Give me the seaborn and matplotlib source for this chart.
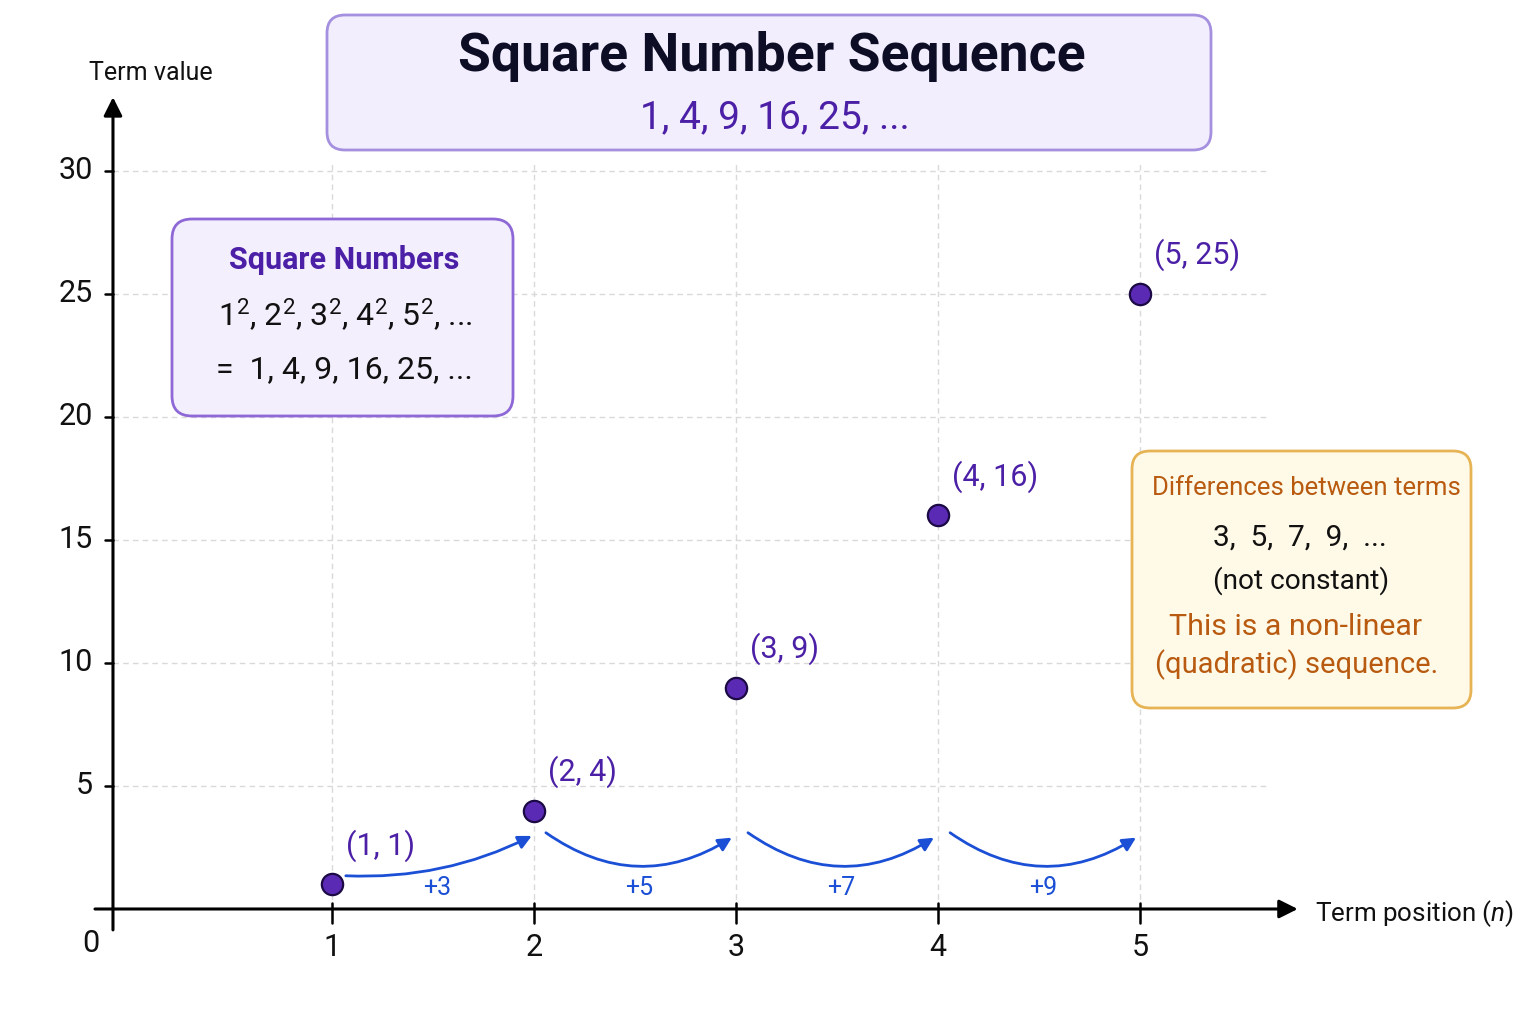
import matplotlib.pyplot as plt
import seaborn as sns
import pandas as pd
from matplotlib.patches import FancyBboxPatch, FancyArrowPatch

# data
positions = [1, 2, 3, 4, 5]
squares = [1, 4, 9, 16, 25]
diff_labels = ["+3", "+5", "+7", "+9"]
point_labels = ["(1, 1)", "(2, 4)", "(3, 9)", "(4, 16)", "(5, 25)"]
y_ticks = [5, 10, 15, 20, 25, 30]

PURPLE = "#4b1fa6"
POINT = "#5a2ab5"
BLUE = "#1a4fd6"
ORANGE = "#b85a10"
GRID = "#d9d9d9"

sns.set_theme(style="white")
plt.rcParams["font.family"] = ["Roboto", "DejaVu Sans"]
plt.rcParams["mathtext.fontset"] = "custom"
plt.rcParams["mathtext.rm"] = "Roboto"
plt.rcParams["mathtext.it"] = "Roboto:italic"

W, H = 1536, 1024
fig = plt.figure(figsize=(W / 100, H / 100), dpi=100)
ax = fig.add_axes([0, 0, 1, 1])
ax.set_xlim(-0.641, 6.959)
ax.set_ylim(-4.675, 36.95)
ax.axis("off")

YAX = -0.082  # where the vertical axis crosses


def box(x0, y0, x1, y1, face, edge, r=18):
    # box given in pixel coords (top-left origin)
    p = FancyBboxPatch((x0 / W, 1 - y1 / H), (x1 - x0) / W, (y1 - y0) / H,
                       boxstyle=f"round,pad=0,rounding_size={r / W}",
                       mutation_aspect=W / H, transform=fig.transFigure,
                       facecolor=face, edgecolor=edge, linewidth=2, zorder=6)
    fig.patches.append(p)


def ftext(x, y, s, **kw):
    kw.setdefault("ha", "center")
    kw.setdefault("va", "center")
    fig.text(x / W, 1 - y / H, s, zorder=7, **kw)


# grid
for x in positions:
    ax.plot([x, x], [0, 30.4], ls=(0, (4, 3)), color=GRID, lw=1, zorder=0)
for y in y_ticks:
    ax.plot([YAX, 5.64], [y, y], ls=(0, (4, 3)), color=GRID, lw=1, zorder=0)

# axes with arrows
ax.annotate("", xy=(5.78, 0), xytext=(-0.171, 0),
            arrowprops=dict(arrowstyle="-|>", color="black", lw=2.2,
                            mutation_scale=28, shrinkA=0, shrinkB=0))
ax.annotate("", xy=(YAX, 33.0), xytext=(YAX, -0.85),
            arrowprops=dict(arrowstyle="-|>", color="black", lw=2.2,
                            mutation_scale=28, shrinkA=0, shrinkB=0))

for x in positions:
    ax.plot([x, x], [0.25, -0.55], color="black", lw=1.8)
    ax.text(x, -1.55, str(x), ha="center", va="center", fontsize=22, color="#111111")
for y in y_ticks:
    ax.plot([-0.121, YAX], [y, y], color="black", lw=1.8)
    ax.text(-0.18, y, str(y), ha="right", va="center", fontsize=22, color="#111111")
ax.text(-0.19, -1.4, "0", ha="center", va="center", fontsize=22, color="#111111")

ftext(151, 73, "Term value", fontsize=18, color="#111111")
ftext(1315, 914, "Term position ($n$)", ha="left", fontsize=18.7, color="#111111")

# points
df = pd.DataFrame({"n": positions, "value": squares})
sns.scatterplot(data=df, x="n", y="value", s=235, color=POINT,
                edgecolor="#1c0a45", linewidth=1.6, zorder=5, ax=ax, legend=False)
for n, v, lab in zip(positions, squares, point_labels):
    ax.annotate(lab, (n, v), xytext=(10, 28), textcoords="offset points",
                ha="left", va="center", fontsize=22, color=PURPLE)

# difference arrows
for i, lab in enumerate(diff_labels):
    n0, n1 = positions[i], positions[i + 1]
    if i == 0:
        start, end, rad = (n0 + 0.07, squares[0] + 0.35), (n1 - 0.01, 2.97), 0.13
    else:
        start, end, rad = (n0 + 0.06, 3.1), (n1 - 0.02, 2.9), 0.33
    arr = FancyArrowPatch(start, end, connectionstyle=f"arc3,rad={rad}",
                          arrowstyle="-|>", mutation_scale=20, lw=2,
                          color=BLUE, shrinkA=0, shrinkB=0, zorder=4)
    ax.add_patch(arr)
    ax.text((n0 + n1) / 2 + 0.02, 0.85, lab, ha="center", va="center",
            fontsize=18, color=BLUE)

# title box
box(327, 15, 1211, 150, "#f2eefd", "#a590e0")
ftext(772, 57, "Square Number Sequence", fontsize=38.5, fontweight="bold", color="#0d0d26")
ftext(775, 118, "1, 4, 9, 16, 25, ...", fontsize=28, color=PURPLE)

# square numbers box
box(172, 219, 513, 416, "#f3effd", "#8e68d6", r=20)
ftext(344, 260, "Square Numbers", fontsize=22, fontweight="semibold", color=PURPLE)
ftext(345, 315, ", ".join([rf"$\mathregular{{{n}^2}}$" for n in positions]) + ", ...",
      fontsize=23, color="#111111")
ftext(344, 370, "=  " + ", ".join(str(v) for v in squares) + ", ...",
      fontsize=23, color="#111111")

# differences box
box(1132, 451, 1471, 708, "#fff9e7", "#e6b455")
ftext(1306, 488, "Differences between terms", fontsize=18.5, color=ORANGE)
ftext(1300, 538, "3,  5,  7,  9,  ...", fontsize=21.5, color="#111111")
ftext(1301, 581, "(not constant)", fontsize=20.2, color="#111111")
ftext(1296, 627, "This is a non-linear", fontsize=21.8, color=ORANGE)
ftext(1297, 665, "(quadratic) sequence.", fontsize=21, color=ORANGE)

fig.savefig("out.png", dpi=100, facecolor="white")
